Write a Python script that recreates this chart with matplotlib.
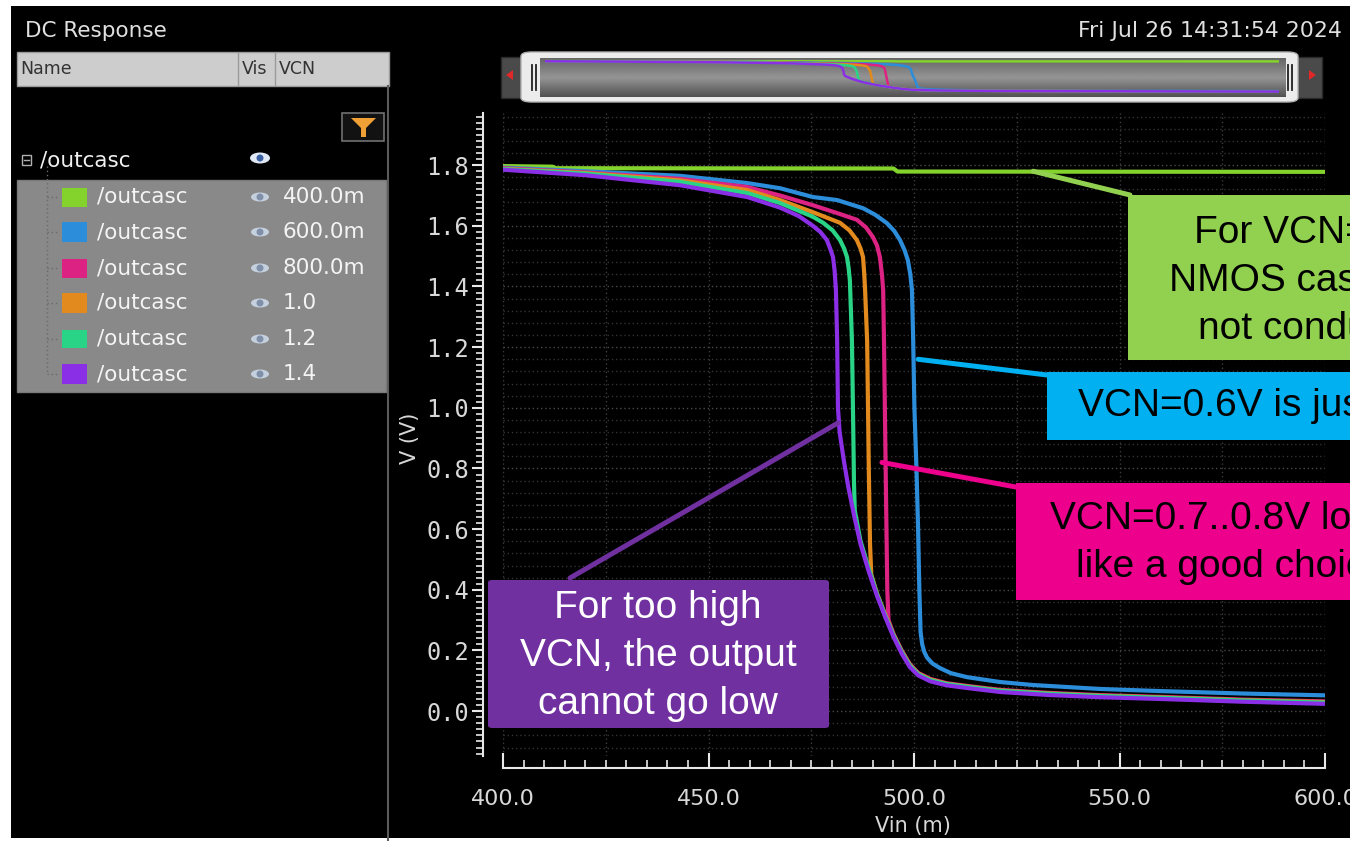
import numpy as np
import matplotlib
matplotlib.use("Agg")
import matplotlib.pyplot as plt
from matplotlib.patches import Rectangle, FancyBboxPatch, Polygon, Ellipse
from matplotlib.lines import Line2D
from matplotlib.ticker import MultipleLocator, FixedLocator

# ---------------- data ----------------
vcn_labels = ["400.0m", "600.0m", "800.0m", "1.0", "1.2", "1.4"]
series_names = ["/outcasc"] * 6
colors = ["#84d22c", "#2c8ddb", "#dc2282", "#e38a1e", "#2ad486", "#8a2fe6"]

vin_04 = [400, 412, 413, 495, 496, 600]
v_04 = [1.797, 1.795, 1.790, 1.789, 1.779, 1.778]

vin_06 = [400, 420, 443, 459.4, 467.4, 475.4, 481.3, 487.6, 490.5, 493.4, 495.2, 496.6,
          497.7, 498.5, 499.1, 499.5, 499.8, 500.1, 500.6, 501.0, 501.3, 501.6, 502.0,
          502.5, 503.2, 504.5, 506.3, 509, 512.9, 520.9, 529, 545.3, 560, 580, 600]
v_06 = [1.792, 1.780, 1.765, 1.741, 1.724, 1.695, 1.685, 1.658, 1.637, 1.609, 1.583, 1.553,
        1.520, 1.487, 1.440, 1.388, 1.223, 1.0, 0.8, 0.6, 0.4, 0.26, 0.22,
        0.195, 0.176, 0.157, 0.142, 0.125, 0.112, 0.096, 0.086, 0.073, 0.066, 0.058, 0.052]

vin_08 = [400, 420, 443, 459.4, 467.4, 475.4, 481.3, 486.1, 488.3, 490.0, 491.0, 491.7,
          492.2, 492.5, 492.7, 493.2, 493.5, 493.8, 495, 497, 499, 501, 504, 508, 513,
          521, 533, 545, 560, 580, 600]
v_08 = [1.790, 1.776, 1.755, 1.728, 1.700, 1.668, 1.642, 1.620, 1.595, 1.563, 1.535, 1.497,
        1.440, 1.388, 1.22, 0.70, 0.40, 0.30, 0.255, 0.200, 0.155, 0.126, 0.106, 0.092,
        0.083, 0.070, 0.060, 0.053, 0.047, 0.038, 0.032]

vin_10 = [400, 420, 443, 459.4, 467.4, 475.4, 482.0, 484.3, 486.1, 487.0, 487.6, 487.9,
          488.1, 488.6, 489.0, 489.3, 489.6, 491, 493, 495, 497, 499, 501, 504, 508, 513,
          521, 533, 545, 560, 580, 600]
v_10 = [1.788, 1.774, 1.750, 1.718, 1.685, 1.645, 1.610, 1.585, 1.553, 1.525, 1.497, 1.440,
        1.388, 1.22, 0.80, 0.55, 0.45, 0.388, 0.318, 0.252, 0.197, 0.152, 0.124, 0.104,
        0.090, 0.081, 0.068, 0.058, 0.051, 0.045, 0.036, 0.030]

vin_12 = [400, 420, 443, 459.4, 467.4, 475.4, 477.9, 480.2, 482.0, 483.0, 483.7, 484.1,
          484.4, 484.9, 485.2, 485.4, 485.6, 487, 489, 491, 493, 495, 497, 499, 501, 504,
          508, 513, 521, 533, 545, 560, 580, 600]
v_12 = [1.787, 1.772, 1.745, 1.708, 1.675, 1.630, 1.610, 1.585, 1.553, 1.525, 1.497, 1.460,
        1.420, 1.22, 0.95, 0.75, 0.66, 0.56, 0.47, 0.385, 0.315, 0.250, 0.195, 0.150,
        0.122, 0.102, 0.089, 0.080, 0.067, 0.057, 0.050, 0.044, 0.035, 0.028]

vin_14 = [400, 420, 443, 459.4, 467.4, 472.0, 475.4, 477.2, 478.8, 479.6, 480.3, 480.7,
          481.0, 481.3, 481.5, 481.9, 483, 484, 485.5, 487, 489, 491, 493, 495, 497, 499,
          501, 504, 508, 513, 521, 533, 545, 560, 580, 600]
v_14 = [1.785, 1.767, 1.734, 1.695, 1.660, 1.632, 1.600, 1.580, 1.553, 1.525, 1.497, 1.450,
        1.388, 1.223, 1.0, 0.92, 0.82, 0.74, 0.64, 0.55, 0.46, 0.38, 0.31, 0.245, 0.19,
        0.145, 0.118, 0.098, 0.085, 0.076, 0.063, 0.053, 0.046, 0.040, 0.031, 0.024]

curves = [(vin_04, v_04), (vin_06, v_06), (vin_08, v_08),
          (vin_10, v_10), (vin_12, v_12), (vin_14, v_14)]

xticks = [400, 450, 500, 550, 600]
xtick_labels = ["400.0", "450.0", "500.0", "550.0", "600.0"]
yticks = [0.0, 0.2, 0.4, 0.6, 0.8, 1.0, 1.2, 1.4, 1.6, 1.8]
ytick_labels = ["0.0", "0.2", "0.4", "0.6", "0.8", "1.0", "1.2", "1.4", "1.6", "1.8"]

# ---------------- figure helpers ----------------
W, H = 1350, 841
fig = plt.figure(figsize=(13.5, 8.41), dpi=100, facecolor="white")


def fx(x):
    return x / W


def fy(y):
    return 1 - y / H


def frect(x0, y0, x1, y1, **kw):
    r = Rectangle((fx(x0), fy(y1)), fx(x1) - fx(x0), fy(y0) - fy(y1),
                  transform=fig.transFigure, **kw)
    fig.add_artist(r)
    return r


def fline(x0, y0, x1, y1, **kw):
    fig.add_artist(Line2D([fx(x0), fx(x1)], [fy(y0), fy(y1)],
                          transform=fig.transFigure, **kw))


def ftext(x, y, s, **kw):
    return fig.text(fx(x), fy(y), s, **kw)


# black screen background
frect(11, 6, 1352, 838, facecolor="black", edgecolor="none", zorder=-10)

LG = "#e0e0e0"
ftext(25, 31, "DC Response", color=LG, fontsize=15.5, va="center", ha="left",
      family="DejaVu Sans")
ftext(1342, 31, "Fri Jul 26 14:31:54 2024", color=LG, fontsize=15.8, va="center",
      ha="right", family="DejaVu Sans")

# ---------------- left panel ----------------
frect(17, 52, 389, 86, facecolor="#cdcdcd", edgecolor="#9a9a9a", lw=1, zorder=1)
fline(238, 53, 238, 85, color="#9a9a9a", lw=1, zorder=2)
fline(275, 53, 275, 85, color="#9a9a9a", lw=1, zorder=2)
ftext(20, 69, "Name", color="#333333", fontsize=12.5, va="center", family="DejaVu Sans", zorder=3)
ftext(242, 69, "Vis", color="#333333", fontsize=12.5, va="center", family="DejaVu Sans", zorder=3)
ftext(279, 69, "VCN", color="#333333", fontsize=12.5, va="center", family="DejaVu Sans", zorder=3)
fline(388, 86, 388, 841, color="#5a5a5a", lw=1.5, zorder=1)

# filter button
frect(342, 113, 384, 141, facecolor="#121212", edgecolor="#707070", lw=1.2, zorder=1)
funnel = [(351, 118), (376, 118), (366, 128), (366, 137), (361, 137), (361, 128)]
fig.add_artist(Polygon([(fx(a), fy(b)) for a, b in funnel], closed=True,
                       transform=fig.transFigure, facecolor="#f0a035", edgecolor="none", zorder=2))

# parent row
frect(22, 155, 31, 165, facecolor="none", edgecolor="#b0b0b0", lw=1, zorder=2)
fline(24, 160, 29, 160, color="#b0b0b0", lw=1, zorder=2)
ftext(40, 160, "/outcasc", color="#f0f0f0", fontsize=15.5, va="center", family="DejaVu Sans")


def eye(cx, cy, big=False):
    w, h = (20, 11) if big else (18, 9)
    fig.add_artist(Ellipse((fx(cx), fy(cy)), w / W, h / H, transform=fig.transFigure,
                           facecolor="#dfe8f4" if big else "#c5d0de", edgecolor="none", zorder=3))
    fig.add_artist(Ellipse((fx(cx), fy(cy)), 7 / W, 7 / H, transform=fig.transFigure,
                           facecolor="#3a5fa0" if big else "#8090a8", edgecolor="none", zorder=4))


eye(260, 158, big=True)

# children block
frect(17, 180, 386, 392, facecolor="#898989", edgecolor="#7a7a7a", lw=1, zorder=1)
row_y = [197, 232, 268, 303, 339, 374]
fline(47, 166, 47, row_y[-1], color="#6a6a6a", lw=1, ls=(0, (1, 2)), zorder=2)
for ry, name, lab, col in zip(row_y, series_names, vcn_labels, colors):
    fline(47, ry, 58, ry, color="#6a6a6a", lw=1, ls=(0, (1, 2)), zorder=2)
    frect(62, ry - 9.5, 87, ry + 9.5, facecolor=col, edgecolor="none", zorder=2)
    ftext(97, ry, name, color="#f4f4f4", fontsize=15.5, va="center", family="DejaVu Sans", zorder=3)
    eye(260, ry)
    ftext(283, ry, lab, color="#f4f4f4", fontsize=15.5, va="center", family="DejaVu Sans", zorder=3)

# ---------------- overview bar ----------------
frect(501, 57, 522, 98, facecolor="#4a4a4a", edgecolor="#2a2a2a", lw=1, zorder=1)
frect(1292, 57, 1322, 98, facecolor="#4a4a4a", edgecolor="#2a2a2a", lw=1, zorder=1)
tri_l = [(506, 75), (513, 70), (513, 80)]
tri_r = [(1316, 75), (1309, 70), (1309, 80)]
for tri in (tri_l, tri_r):
    fig.add_artist(Polygon([(fx(a), fy(b)) for a, b in tri], closed=True,
                           transform=fig.transFigure, facecolor="#e02828", edgecolor="none", zorder=2))
cap = FancyBboxPatch((fx(521), fy(102)), fx(1298) - fx(521), fy(52) - fy(102),
                     boxstyle="round,pad=0,rounding_size=0.008", transform=fig.transFigure,
                     facecolor="#ececec", edgecolor="#b0b0b0", lw=1, zorder=1.5,
                     mutation_aspect=H / W * 1.0)
fig.add_artist(cap)
axg = fig.add_axes([fx(540), fy(97), fx(1286) - fx(540), fy(58) - fy(97)], zorder=2)
grad = np.concatenate([np.linspace(0.40, 0.58, 20), np.linspace(0.58, 0.32, 20)])
axg.imshow(grad[:, None], aspect="auto", cmap="gray", vmin=0, vmax=1,
           extent=[0, 1, 0, 1])
axg.axis("off")
for hx in (532, 536, 1288, 1292):
    fline(hx, 65, hx, 90, color="#202020", lw=1.3, zorder=4)

axm = fig.add_axes([fx(545), fy(93.7), fx(1279) - fx(545), fy(59.3) - fy(93.7)], zorder=3)
axm.patch.set_alpha(0)
axm.axis("off")
axm.set_xlim(400, 600)
axm.set_ylim(-0.1, 1.9)
for (xs, ys), col in zip(curves, colors):
    axm.plot(xs, ys, color=col, lw=1.8)

# ---------------- main axes ----------------
ax = fig.add_axes([fx(503), fy(756), fx(1325) - fx(503), fy(113) - fy(756)], zorder=0)
ax.set_facecolor("black")
ax.set_xlim(400, 600)
ax.set_ylim(-0.148, 1.972)

for gx in np.arange(400, 601, 25):
    ax.axvline(gx, color="#3c3c3c", lw=1, ls=(0, (1, 2)), zorder=0.5)
for k in range(-3, 50):
    gy = round(k * 0.04, 2)
    if gy > 1.97:
        break
    major = abs(gy / 0.2 - round(gy / 0.2)) < 1e-6
    ax.axhline(gy, color="#4a4a4a" if major else "#333333", lw=1, ls=(0, (1, 2)), zorder=0.5)

for (xs, ys), col in zip(curves, colors):
    ax.plot(xs, ys, color=col, lw=3.0, solid_joinstyle="round", solid_capstyle="butt", zorder=2)

for side in ("top", "right"):
    ax.spines[side].set_visible(False)
ax.spines["left"].set_position(("outward", 14.4))
ax.spines["bottom"].set_position(("outward", 8.6))
for side in ("left", "bottom"):
    ax.spines[side].set_color("#e8e8e8")
    ax.spines[side].set_linewidth(1.5)

ax.yaxis.set_major_locator(FixedLocator(yticks))
ax.set_yticks(yticks, labels=ytick_labels, fontfamily="DejaVu Sans Mono")
ax.yaxis.set_minor_locator(MultipleLocator(0.02))
ax.set_xticks(xticks, labels=xtick_labels, fontfamily="DejaVu Sans")
ax.xaxis.set_minor_locator(MultipleLocator(5))
ax.tick_params(axis="y", which="major", direction="out", length=8, width=1.5,
               color="#e8e8e8", pad=2, labelsize=17, labelcolor="#d8d8d8")
ax.tick_params(axis="y", which="minor", direction="out", length=5, width=1.2, color="#e8e8e8")
ax.tick_params(axis="x", which="major", direction="in", length=11, width=1.5,
               color="#e8e8e8", pad=15, labelsize=16, labelcolor="#d8d8d8")
ax.tick_params(axis="x", which="minor", direction="in", length=6, width=1.2, color="#e8e8e8")

ftext(410, 438, "V (V)", color="#d8d8d8", fontsize=15, rotation=90, ha="center",
      va="center", family="DejaVu Sans")
ftext(913, 826, "Vin (m)", color="#d8d8d8", fontsize=15, ha="center", va="center",
      family="DejaVu Sans")

# ---------------- annotations ----------------
GREEN, BLUE, MAG, PURP = "#92D050", "#00B0F0", "#EC008C", "#7030A0"
callouts = [
    ((529.0, 1.78), (1130, 195), GREEN),
    ((501.0, 1.16), (1047, 375), BLUE),
    ((492.2, 0.82), (1016, 487), MAG),
    ((481.5, 0.95), (570, 578), PURP),
]
for (dx, dy), (px, py), col in callouts:
    ax.annotate("", xy=(dx, dy), xycoords="data", xytext=(fx(px), fy(py)),
                textcoords="figure fraction", annotation_clip=False,
                arrowprops=dict(arrowstyle="-", color=col, lw=3.6, shrinkA=0, shrinkB=0),
                zorder=5)

frect(1128, 195, 1400, 360, facecolor=GREEN, edgecolor="none", zorder=6)
frect(1047, 372, 1400, 440, facecolor=BLUE, edgecolor="none", zorder=6)
frect(1016, 483, 1400, 600, facecolor=MAG, edgecolor="none", zorder=6)
fig.add_artist(FancyBboxPatch((fx(488), fy(728)), fx(829) - fx(488), fy(580) - fy(728),
                              boxstyle="round,pad=0,rounding_size=0.003",
                              transform=fig.transFigure, facecolor=PURP,
                              edgecolor="none", zorder=6))

AF = "Liberation Sans"
ftext(1324, 281, "For VCN=0.4V,\nNMOS cascode is\nnot conducting", ha="center",
      va="center", fontsize=28, linespacing=1.42, color="black", family=AF, zorder=7)
ftext(1078, 406, "VCN=0.6V is just right", ha="left", va="center", fontsize=28,
      color="black", family=AF, zorder=7)
ftext(1231, 543, "VCN=0.7..0.8V looks\nlike a good choice", ha="center", va="center",
      fontsize=28, linespacing=1.42, color="black", family=AF, zorder=7)
ftext(658, 656, "For too high\nVCN, the output\ncannot go low", ha="center", va="center",
      fontsize=28, linespacing=1.42, color="white", family=AF, zorder=7)

fig.savefig("out.png", dpi=100, facecolor="white")
